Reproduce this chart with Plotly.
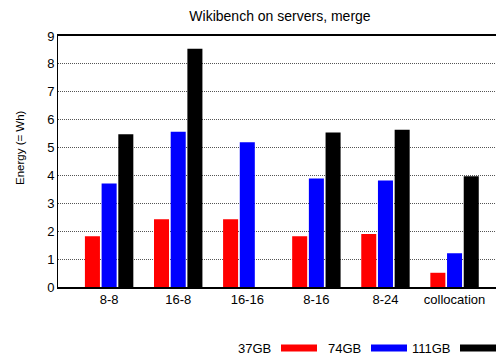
import plotly.graph_objects as go

# Energy consumption per server configuration, one series per dataset size
categories = ["8-8", "16-8", "16-16", "8-16", "8-24", "collocation"]
series_names = ["37GB", "74GB", "111GB"]
energy_37gb = [1.82, 2.43, 2.43, 1.82, 1.90, 0.51]
energy_74gb = [3.71, 5.57, 5.19, 3.89, 3.82, 1.21]
energy_111gb = [5.48, 8.54, None, 5.54, 5.64, 3.97]
y_ticks = list(range(0, 10))

colors = ["#ff0000", "#0000ff", "#000000"]
FONT = "Liberation Sans, Arial, sans-serif"

W, H = 496, 358
L, R, T, B = 58, 0, 36, 71
plot_w = W - L - R
plot_h = H - T - B


def px_x(px):
    return (px - L) / plot_w


def px_y(py):
    return (H - B - py) / plot_h


fig = go.Figure()
for name, vals, col in zip(series_names, [energy_37gb, energy_74gb, energy_111gb], colors):
    fig.add_trace(go.Bar(
        x=categories, y=vals, name=name,
        marker=dict(color=col, line=dict(width=0)),
        showlegend=False,
    ))

# Key below the plot: label first, then a thick line sample
key_items = [
    (series_names[0], 273, 281, 317),
    (series_names[1], 363, 371, 407),
    (series_names[2], 453, 460, 497),
]
shapes = []
annotations = []
key_y = 348
for (label, text_right, s0, s1), col in zip(key_items, colors):
    annotations.append(dict(
        text=label, xref="paper", yref="paper",
        x=px_x(text_right), y=px_y(key_y), xanchor="right", yanchor="middle",
        showarrow=False, font=dict(family=FONT, size=13, color="#000"),
    ))
    shapes.append(dict(
        type="line", xref="paper", yref="paper",
        x0=px_x(s0), x1=px_x(s1), y0=px_y(key_y), y1=px_y(key_y),
        line=dict(color=col, width=7),
    ))

annotations.append(dict(
    text="Energy (= Wh)", xref="paper", yref="paper",
    x=px_x(20), y=px_y(148), xanchor="center", yanchor="middle",
    textangle=-90, showarrow=False,
    font=dict(family=FONT, size=11.5, color="#000"),
))

fig.update_layout(
    width=W, height=H,
    margin=dict(l=L, r=R, t=T, b=B),
    paper_bgcolor="white", plot_bgcolor="white",
    barmode="group", bargap=0.275, bargroupgap=0.1,
    title=dict(
        text="Wikibench on servers, merge",
        x=px_x(280), xref="paper", xanchor="center",
        y=1 - 16 / H, yref="container", yanchor="middle",
        font=dict(family=FONT, size=14, color="#000"),
    ),
    font=dict(family=FONT, size=13, color="#000"),
    shapes=shapes,
    annotations=annotations,
)
fig.update_xaxes(
    type="category", range=[-0.74, 5.6],
    showline=True, linecolor="#000", linewidth=1.5, mirror=True,
    showgrid=False, ticks="", tickfont=dict(family=FONT, size=13, color="#000"),
)
fig.update_yaxes(
    range=[0, 9], tickvals=y_ticks,
    showline=True, linecolor="#000", linewidth=1,
    showgrid=True, gridcolor="#555", griddash="1px,1px", gridwidth=1,
    zeroline=False, ticks="",
    tickfont=dict(family=FONT, size=13, color="#000"),
)

fig.write_html("out.html")
